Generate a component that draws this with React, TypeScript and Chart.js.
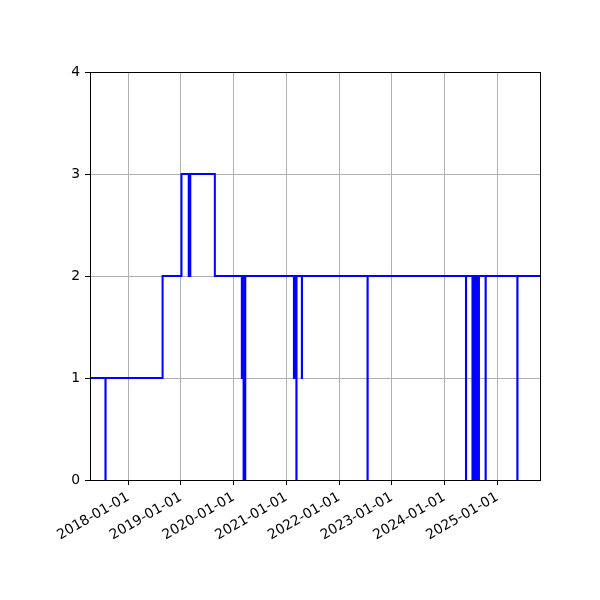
import { useEffect, useRef } from 'react';
import { Chart, ChartConfiguration, registerables } from 'chart.js';

Chart.register(...registerables);

// Axis range (dates)
const xStart = '2017-04-11';
const xEnd = '2025-10-24';

// Tick labels on the date axis
const xTickLabels = [
  '2018-01-01', '2019-01-01', '2020-01-01', '2021-01-01',
  '2022-01-01', '2023-01-01', '2024-01-01', '2025-01-01'
];
const yTickValues = [0, 1, 2, 3, 4];

// Step series: the value holds from each date until the next one
const stepDates = [
  '2017-04-11', '2017-07-27', '2017-07-28', '2018-08-27',
  '2019-01-05', '2019-02-24', '2019-02-25', '2019-03-01', '2019-03-02',
  '2019-03-06', '2019-03-07', '2019-08-24',
  '2020-02-27', '2020-02-28', '2020-03-03', '2020-03-04',
  '2020-03-10', '2020-03-11', '2020-03-16', '2020-03-17',
  '2020-03-21', '2020-03-22',
  '2021-02-22', '2021-02-23', '2021-02-27', '2021-02-28',
  '2021-03-04', '2021-03-05', '2021-03-11', '2021-03-12',
  '2021-04-18', '2021-04-19',
  '2022-07-17', '2022-07-18',
  '2024-05-29', '2024-05-30',
  '2024-07-13', '2024-07-14', '2024-07-17', '2024-07-18',
  '2024-07-21', '2024-07-22', '2024-07-25', '2024-07-26',
  '2024-07-29', '2024-07-30', '2024-08-02', '2024-08-03',
  '2024-08-06', '2024-08-07', '2024-08-10', '2024-08-11',
  '2024-08-14', '2024-08-15', '2024-08-18', '2024-08-19',
  '2024-08-22', '2024-08-23', '2024-08-26', '2024-08-27',
  '2024-10-12', '2024-10-13',
  '2025-05-20', '2025-05-21',
  '2025-10-24'
];
const stepValues = [
  1, 0, 1, 2,
  3, 2, 3, 2, 3,
  2, 3, 2,
  1, 2, 1, 2,
  0, 2, 0, 2,
  0, 2,
  1, 2, 1, 2,
  1, 2, 0, 2,
  1, 2,
  0, 2,
  0, 2,
  0, 2, 0, 2,
  0, 2, 0, 2,
  0, 2, 0, 2,
  0, 2, 0, 2,
  0, 2, 0, 2,
  0, 2, 0, 2,
  0, 2,
  0, 2,
  2
];

const frame = {
  id: 'frame',
  afterDatasetsDraw(chart: Chart) {
    const { ctx, chartArea: a } = chart;
    ctx.save();
    ctx.strokeStyle = '#000';
    ctx.lineWidth = 1;
    ctx.strokeRect(Math.round(a.left) + 0.5, Math.round(a.top) + 0.5,
      Math.round(a.right - a.left), Math.round(a.bottom - a.top));
    ctx.restore();
  }
};

export default function App() {
  const canvasRef = useRef<HTMLCanvasElement>(null);
  const chartRef = useRef<Chart | null>(null);

  useEffect(() => {
    if (!canvasRef.current) return;
    const ctx = canvasRef.current.getContext('2d');
    if (!ctx) return;

    Chart.defaults.font.family = "'DejaVu Sans', sans-serif";
    Chart.defaults.color = '#000';

    const points = stepDates.map((d, i) => ({ x: Date.parse(d), y: stepValues[i] }));

    const config: ChartConfiguration = {
      type: 'line',
      data: {
        datasets: [
          {
            data: points as any,
            borderColor: '#0000ff',
            borderWidth: 2,
            stepped: 'before',
            pointRadius: 0,
            fill: false,
            tension: 0
          }
        ]
      },
      options: {
        animation: false,
        responsive: true,
        maintainAspectRatio: false,
        layout: { padding: { left: 0, top: 72, right: 60, bottom: 0 } },
        plugins: {
          legend: { display: false },
          tooltip: { enabled: false }
        },
        scales: {
          x: {
            type: 'linear',
            min: Date.parse(xStart),
            max: Date.parse(xEnd),
            afterBuildTicks: (axis: any) => {
              axis.ticks = xTickLabels.map(l => ({ value: Date.parse(l) }));
            },
            afterFit: (axis: any) => { axis.height = 120; },
            ticks: {
              autoSkip: false,
              maxRotation: 30,
              minRotation: 30,
              padding: 4,
              font: { size: 13.9 },
              color: '#000',
              callback: (v: any) => new Date(Number(v)).toISOString().slice(0, 10)
            },
            grid: {
              color: '#b0b0b0',
              lineWidth: 1,
              drawTicks: true,
              tickLength: 5,
              tickColor: '#000'
            },
            border: { display: false }
          },
          y: {
            type: 'linear',
            min: 0,
            max: 4,
            afterBuildTicks: (axis: any) => {
              axis.ticks = yTickValues.map(v => ({ value: v }));
            },
            afterFit: (axis: any) => { axis.width = 90; },
            ticks: {
              padding: 5,
              font: { size: 13.9 },
              color: '#000',
              callback: (v: any) => String(v)
            },
            grid: {
              color: '#b0b0b0',
              lineWidth: 1,
              drawTicks: true,
              tickLength: 5,
              tickColor: '#000'
            },
            border: { display: false }
          }
        }
      },
      plugins: [frame]
    };

    chartRef.current = new Chart(ctx, config);

    return () => {
      if (chartRef.current) {
        chartRef.current.destroy();
        chartRef.current = null;
      }
    };
  }, []);

  return (
    <div style={{ position: 'absolute', left: 0, top: 0, width: 600, height: 600, background: '#fff' }}>
      <canvas ref={canvasRef}></canvas>
    </div>
  );
}
